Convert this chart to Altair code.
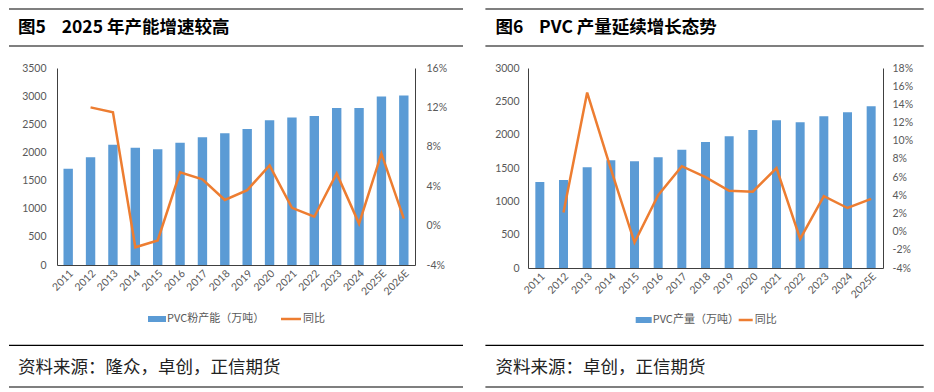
import altair as alt
import pandas as pd

# ---------------- data ----------------
years_l = ["2011", "2012", "2013", "2014", "2015", "2016", "2017", "2018",
           "2019", "2020", "2021", "2022", "2023", "2024", "2025E", "2026E"]
capacity = [1710, 1915, 2135, 2085, 2055, 2170, 2270, 2340,
            2415, 2570, 2620, 2645, 2790, 2790, 2995, 3010]
capacity_yoy = [None, 12.0, 11.5, -2.2, -1.5, 5.4, 4.7, 2.6,
                3.6, 6.1, 1.8, 0.9, 5.3, 0.2, 7.3, 0.7]

years_r = ["2011", "2012", "2013", "2014", "2015", "2016", "2017", "2018",
           "2019", "2020", "2021", "2022", "2023", "2024", "2025E"]
output = [1290, 1320, 1510, 1615, 1600, 1660, 1775, 1890,
          1975, 2070, 2215, 2185, 2275, 2335, 2425]
output_yoy = [None, 2.1, 15.3, 6.9, -1.2, 4.0, 7.2, 6.0,
              4.5, 4.4, 7.0, -0.8, 3.9, 2.6, 3.6]

titles = ["图5\u00a0\u00a0\u00a0\u00a02025 年产能增速较高",
          "图6\u00a0\u00a0\u00a0\u00a0PVC 产量延续增长态势"]
bar_names = ["PVC粉产能（万吨）", "PVC产量（万吨）"]
line_name = "同比"
sources = ["资料来源：隆众，卓创，正信期货", "资料来源：卓创，正信期货"]

BLUE = "#5B9BD5"
ORANGE = "#ED7D31"
AX = "#404040"
LBL = "#595959"
CJK = "Noto Sans CJK SC"
NUM = "Lato"

one = pd.DataFrame({"k": [0]})


def panel(years, bars, yoy, width, height, bar_dom, bar_step, yoy_dom, yoy_step,
          pin, title, bar_name, source, geo):
    df = pd.DataFrame({"year": years, "val": bars, "yoy": yoy})
    xenc = alt.X("year:N", sort=years,
                 scale=alt.Scale(paddingInner=pin, paddingOuter=pin / 2),
                 axis=alt.Axis(title=None, labelAngle=-45, ticks=False, domainColor=AX,
                               labelFont=NUM, labelFontSize=10.5, labelColor=LBL,
                               labelPadding=3))
    bar = alt.Chart(df).mark_bar(color=BLUE).encode(
        x=xenc,
        y=alt.Y("val:Q", scale=alt.Scale(domain=bar_dom, nice=False, zero=True),
                axis=alt.Axis(title=None, orient="left", grid=False, ticks=False,
                              values=list(range(bar_dom[0], bar_dom[1] + 1, bar_step)),
                              format="d",
                              domainColor=AX, labelFont=NUM, labelFontSize=10.5,
                              labelColor=LBL, labelPadding=geo["lp"])),
    )
    line = alt.Chart(df).mark_line(color=ORANGE, strokeWidth=2.5).encode(
        x=alt.X("year:N", sort=years),
        y=alt.Y("yoy:Q", scale=alt.Scale(domain=yoy_dom, nice=False, zero=False),
                axis=alt.Axis(title=None, orient="right", grid=False, ticks=False,
                              values=list(range(yoy_dom[0], yoy_dom[1] + 1, yoy_step)),
                              labelExpr="datum.value + '%'",
                              domainColor=AX, labelFont=NUM, labelFontSize=10.5,
                              labelColor=LBL, labelPadding=geo["rp"])),
    )
    x0, x1 = geo["rx0"], geo["rx1"]
    rules = alt.layer(*[
        alt.Chart(one).mark_rule(color="#000000", strokeWidth=1.2).encode(
            x=alt.value(x0), x2=alt.value(x1), y=alt.value(yy))
        for yy in (-59, -22, 277.3, 319)
    ])
    ttl = alt.Chart(one).mark_text(text=title, font=CJK, fontSize=17.5, fontWeight="bold",
                                   align="left", baseline="middle", color="#000000").encode(
        x=alt.value(geo["tx"]), y=alt.value(-40.5))
    src = alt.Chart(one).mark_text(text=source, font=CJK, fontSize=17.5, fontWeight="normal",
                                   align="left", baseline="middle", color="#222222").encode(
        x=alt.value(geo["tx"]), y=alt.value(299.5))
    ly = geo["ly"]
    sw = alt.Chart(one).mark_rect(color=BLUE).encode(
        x=alt.value(geo["s0"]), x2=alt.value(geo["s1"]),
        y=alt.value(ly - 3), y2=alt.value(ly + 3))
    st = alt.Chart(one).mark_text(text=bar_name, font=CJK, fontSize=11, align="left",
                                  baseline="middle", color=LBL).encode(
        x=alt.value(geo["s1"] + 1), y=alt.value(ly))
    lw = alt.Chart(one).mark_rule(color=ORANGE, strokeWidth=2.5).encode(
        x=alt.value(geo["l0"]), x2=alt.value(geo["l1"]), y=alt.value(ly))
    lt = alt.Chart(one).mark_text(text=line_name, font=CJK, fontSize=11, align="left",
                                  baseline="middle", color=LBL).encode(
        x=alt.value(geo["l1"] + 2), y=alt.value(ly))
    main = alt.layer(bar, line).resolve_scale(y="independent")
    return alt.layer(main, rules, ttl, src, sw, st, lw, lt).properties(
        width=width, height=height)


left = panel(years_l, capacity, capacity_yoy, 358, 197, [0, 3500], 500, [-4, 16], 4,
             0.58, titles[0], bar_names[0], sources[0],
             dict(lp=11, rp=11, rx0=-48, rx1=406, tx=-39, ly=251,
                  s0=91, s1=109, l0=224, l1=244))
right = panel(years_r, output, output_yoy, 355, 200, [0, 3000], 500, [-4, 18], 2,
              0.62, titles[1], bar_names[1], sources[1],
              dict(lp=9, rp=9, rx0=-42.6, rx1=395.7, tx=-32.6, ly=252,
                   s0=107.7, s1=123.7, l0=210.7, l1=224.7))

chart = alt.hconcat(left, right, spacing=20).resolve_scale(
    x="independent", y="independent").properties(
    padding=0, background="white").configure_view(stroke=None)

chart.save("out.html", embed_options={"renderer": "svg", "actions": False})
